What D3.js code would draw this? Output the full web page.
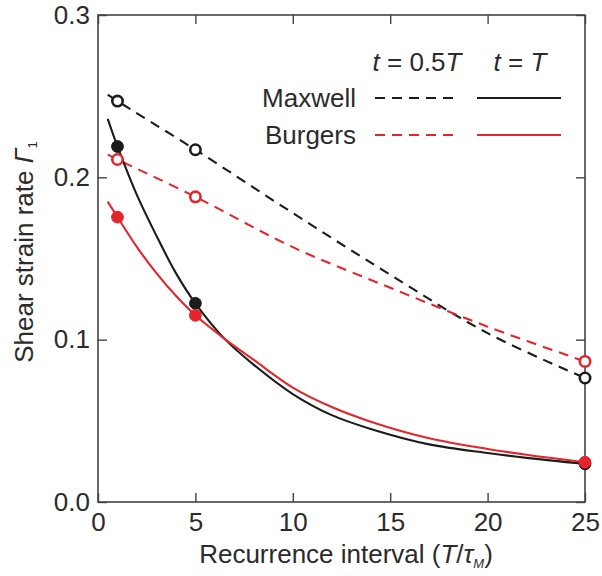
<!DOCTYPE html>
<html lang="en">
<head>
<meta charset="UTF-8">
<title>Shear strain rate</title>
<script src="https://cdnjs.cloudflare.com/ajax/libs/d3/7.8.5/d3.min.js"></script>
<style>
body{margin:0;background:#fff}
svg{display:block;font-family:Arial,"Liberation Sans",sans-serif}
</style>
</head>
<body>
<div id="grafica"></div>
<script>
// t = 0.5T (dashed)
xDashed=[0.5,1,5,10,15,20,25]
maxwellHalf=[0.251,0.247,0.217,0.178,0.140,0.104,0.0764]
burgersHalf=[0.214,0.211,0.188,0.157,0.132,0.108,0.0866]

// t = T (solid)
xSolid=[0.5,1,2,3,4,5,6.5,8,10,12,14,17,20,22,25]
maxwellFull=[0.236,0.219,0.189,0.164,0.141,0.1224,0.1005,0.0845,0.0665,0.0535,0.045,0.0355,0.0302,0.0272,0.0235]
burgersFull=[0.185,0.1755,0.157,0.141,0.127,0.115,0.1005,0.0875,0.0705,0.0585,0.0495,0.0393,0.0327,0.0291,0.0245]

markX=[1,5,25]
xTicks=[0,5,10,15,20,25]
yTicks=[0,0.1,0.2,0.3]

ancho=602
alto=576
black='#1c1c1c'
red='#e3262b'
ink='#2b2b2b'
fs='26px'

svg=d3.select('#grafica')
	.append('svg')
	.attr('width',ancho)
	.attr('height',alto)

x=d3.scaleLinear().domain([0,25]).range([98,585])
y=d3.scaleLinear().domain([0,0.3]).range([502,15])

// axes, ticks pointing inward
function styleAxis(g){
	g.select('.domain').remove()
	g.selectAll('.tick line').attr('stroke','#444').attr('stroke-width',1.4)
	g.selectAll('.tick text').attr('fill',ink).style('font-size',fs)
}
svg.append('g').attr('transform','translate(0,502)')
	.call(d3.axisBottom(x).tickValues(xTicks).tickSize(-9).tickPadding(11).tickFormat(d3.format('d')))
	.call(styleAxis)
svg.append('g').attr('transform','translate(98,0)')
	.call(d3.axisLeft(y).tickValues(yTicks).tickSize(-9).tickPadding(8).tickFormat(d3.format('.1f')))
	.call(styleAxis)
svg.append('g').attr('transform','translate(0,15)')
	.call(d3.axisTop(x).tickValues(xTicks).tickSize(-9).tickFormat(''))
	.call(styleAxis)
svg.append('g').attr('transform','translate(585,0)')
	.call(d3.axisRight(y).tickValues(yTicks).tickSize(-9).tickFormat(''))
	.call(styleAxis)

svg.append('rect')
	.attr('x',x(0)).attr('y',y(0.3))
	.attr('width',x(25)-x(0)).attr('height',y(0)-y(0.3))
	.attr('fill','none').attr('stroke','#444').attr('stroke-width',1.6)

line=d3.line().x(function(d){return x(d[0])}).y(function(d){return y(d[1])}).curve(d3.curveCatmullRom.alpha(0.5))

series=[
	{xs:xDashed,ys:maxwellHalf,color:black,dashed:true},
	{xs:xDashed,ys:burgersHalf,color:red,dashed:true},
	{xs:xSolid,ys:maxwellFull,color:black,dashed:false},
	{xs:xSolid,ys:burgersFull,color:red,dashed:false}
]
series.forEach(function(s){
	s.pts=s.xs.map(function(v,i){return [v,s.ys[i]]})
})

svg.selectAll('path.curve').data(series).enter()
	.append('path')
	.attr('class','curve')
	.attr('d',function(s){return line(s.pts)})
	.attr('fill','none')
	.attr('stroke',function(s){return s.color})
	.attr('stroke-width',2.1)
	.attr('stroke-dasharray',function(s){return s.dashed?'10,7':null})

// markers at T/tau_M = 1, 5, 25
series.forEach(function(s){
	svg.selectAll(null).data(s.pts.filter(function(p){return markX.indexOf(p[0])>=0})).enter()
		.append('circle')
		.attr('cx',function(d){return x(d[0])})
		.attr('cy',function(d){return y(d[1])})
		.attr('r',s.dashed?5.2:5.9)
		.attr('fill',s.dashed?'#fff':s.color)
		.attr('stroke',s.color)
		.attr('stroke-width',s.dashed?2.6:1)
})

// legend
function tLabel(cx,parts){
	t=svg.append('text').attr('x',cx).attr('y',71).attr('text-anchor','middle')
		.attr('fill',ink).style('font-size',fs)
	parts.forEach(function(p){
		t.append('tspan').text(p[0]).style('font-style',p[1]?'italic':'normal')
	})
}
tLabel(417,[['t',1],[' = 0.5',0],['T',1]])
tLabel(520,[['t',1],[' = ',0],['T',1]])

legend=[
	{name:'Maxwell',color:black,y:98},
	{name:'Burgers',color:red,y:135}
]
legend.forEach(function(l){
	svg.append('text').attr('x',356).attr('y',l.y+9).attr('text-anchor','end')
		.attr('fill',ink).style('font-size',fs).text(l.name)
	svg.append('line').attr('x1',375).attr('x2',459).attr('y1',l.y).attr('y2',l.y)
		.attr('stroke',l.color).attr('stroke-width',2.1).attr('stroke-dasharray','10,7')
	svg.append('line').attr('x1',477).attr('x2',561).attr('y1',l.y).attr('y2',l.y)
		.attr('stroke',l.color).attr('stroke-width',2.1)
})

// axis titles
xl=svg.append('text').attr('x',346).attr('y',563).attr('text-anchor','middle')
	.attr('fill',ink).style('font-size',fs)
xl.append('tspan').text('Recurrence interval (')
xl.append('tspan').text('T').style('font-style','italic')
xl.append('tspan').text('/')
xl.append('tspan').text('τ').style('font-style','italic')
xl.append('tspan').text('M').style('font-style','italic').style('font-size','13px').attr('dy',5)
xl.append('tspan').text(')').attr('dy',-5)

yl=svg.append('text').attr('transform','translate(33,252) rotate(-90)').attr('text-anchor','middle')
	.attr('fill',ink).style('font-size',fs)
yl.append('tspan').text('Shear strain rate ')
yl.append('tspan').text('Γ').style('font-style','italic')
yl.append('tspan').text('1').style('font-size','13px').attr('dy',4)
</script>
</body>
</html>
